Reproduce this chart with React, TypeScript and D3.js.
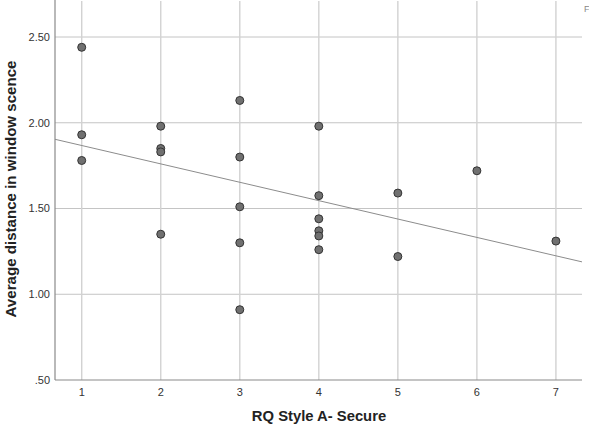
import React from "react";
import * as d3 from "d3";

const xValues = [1, 1, 1, 2, 2, 2, 2, 3, 3, 3, 3, 3, 4, 4, 4, 4, 4, 4, 5, 5, 6, 7];
const yValues = [2.44, 1.93, 1.78, 1.98, 1.85, 1.83, 1.35, 2.13, 1.8, 1.51, 1.3, 0.91, 1.98, 1.575, 1.44, 1.37, 1.34, 1.26, 1.59, 1.22, 1.72, 1.31];
const xTicks = [1, 2, 3, 4, 5, 6, 7];
const yTicks = [0.5, 1.0, 1.5, 2.0, 2.5];
const yTickLabels = [".50", "1.00", "1.50", "2.00", "2.50"];
const xTitle = "RQ Style A- Secure";
const yTitle = "Average distance in window scence";

const W = 589, H = 427;
const L = 55, R = 582, T = 1, B = 380;

export default function App() {
  const x = d3.scaleLinear().domain([0.662, 7.33]).range([L, R]);
  const y = d3.scaleLinear().domain([0.5, 2.71]).range([B, T]);

  const n = xValues.length;
  const mx = d3.mean(xValues)!;
  const my = d3.mean(yValues)!;
  let sxy = 0, sxx = 0;
  for (let i = 0; i < n; i++) {
    sxy += (xValues[i] - mx) * (yValues[i] - my);
    sxx += (xValues[i] - mx) ** 2;
  }
  const slope = sxy / sxx;
  const icpt = my - slope * mx;
  const [d0, d1] = x.domain();
  const line = d3.line<number>().x((d) => x(d)).y((d) => y(icpt + slope * d));

  return (
    <svg width={W} height={H} style={{ position: "absolute", left: 0, top: 0, background: "#fff" }} fontFamily="Arial, 'Liberation Sans', sans-serif">
      <rect x={0} y={0} width={W} height={H} fill="#fff" />
      {yTicks.filter((t) => t > 0.5).map((t) => (
        <line key={"h" + t} x1={L} x2={R} y1={y(t)} y2={y(t)} stroke="#c4c4c4" strokeWidth={1} />
      ))}
      {xTicks.map((t) => (
        <line key={"v" + t} x1={x(t)} x2={x(t)} y1={T} y2={B} stroke="#d2d2d2" strokeWidth={1.4} />
      ))}
      <line x1={L} x2={L} y1={0} y2={B} stroke="#8a8a8a" strokeWidth={1.2} />
      <line x1={L} x2={R} y1={B} y2={B} stroke="#8a8a8a" strokeWidth={1.2} />
      <path d={line([d0, d1]) || ""} fill="none" stroke="#8c8c8c" strokeWidth={1} />
      {xValues.map((xv, i) => (
        <circle key={i} cx={x(xv)} cy={y(yValues[i])} r={4} fill="#707070" stroke="#333" strokeWidth={1} />
      ))}
      {yTicks.map((t, i) => (
        <text key={"yl" + t} x={50} y={y(t)} dy="0.35em" textAnchor="end" fontSize={11} fill="#333">
          {yTickLabels[i]}
        </text>
      ))}
      {xTicks.map((t) => (
        <text key={"xl" + t} x={x(t)} y={396} textAnchor="middle" fontSize={11} fill="#333">
          {t}
        </text>
      ))}
      <text x={319} y={421} textAnchor="middle" fontSize={14.8} fontWeight="bold" fill="#222">
        {xTitle}
      </text>
      <text transform={`translate(16,${189}) rotate(-90)`} textAnchor="middle" fontSize={15.1} fontWeight="bold" fill="#222">
        {yTitle}
      </text>
      <text x={584} y={12} fontSize={9} fill="#888">F</text>
    </svg>
  );
}
